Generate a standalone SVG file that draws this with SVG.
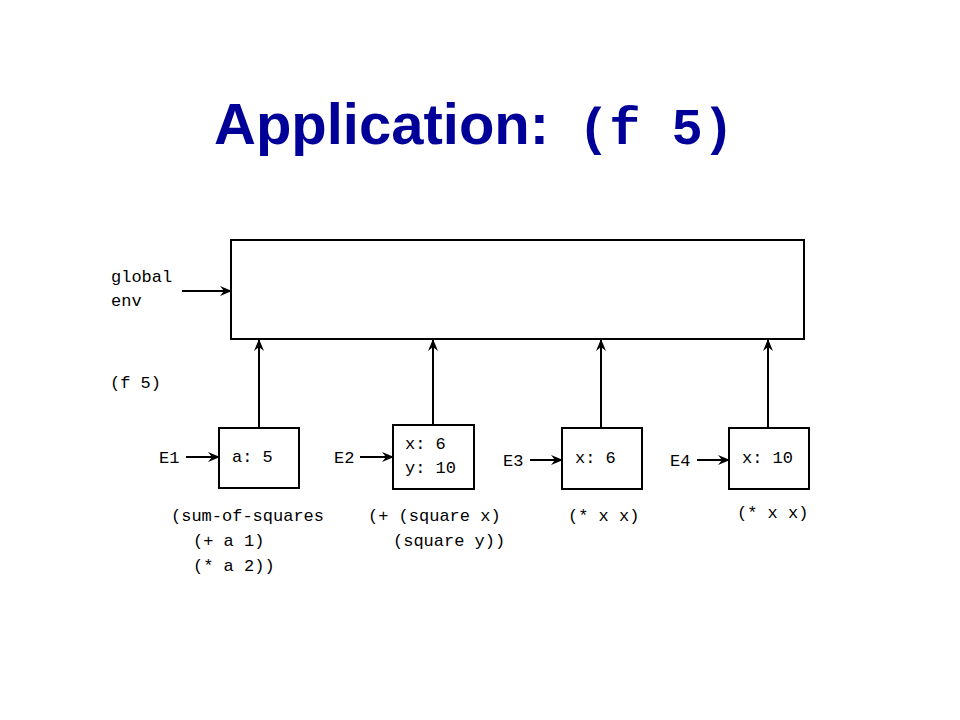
<svg xmlns="http://www.w3.org/2000/svg" width="960" height="720" viewBox="0 0 960 720">
<defs>
<style>
.t{font-family:"Liberation Mono","Courier New",monospace;font-size:17px;fill:#000}
.box{fill:#fff;stroke:#000;stroke-width:2}
.ln{stroke:#000;stroke-width:2;fill:none;marker-end:url(#ah)}
</style>
<marker id="ah" viewBox="0 0 12 10" refX="11" refY="5" markerWidth="12" markerHeight="10" markerUnits="userSpaceOnUse" orient="auto">
<path d="M0,0 L12,5 L0,10 L4,5 Z" fill="#000"/>
</marker>
</defs>
<rect width="960" height="720" fill="#fff"/>
<g id="title">
<text x="214" y="144" font-family="Liberation Sans,Arial,sans-serif" font-weight="bold" font-size="58" fill="#000099">Application:</text>
<text x="578" y="144" font-family="Liberation Mono,Courier New,monospace" font-weight="bold" font-size="52" fill="#000099">(f 5)</text>
</g>
<g id="global">
<rect class="box" x="231" y="240" width="573" height="99"/>
<text class="t" x="111" y="282">global</text>
<text class="t" x="111" y="306">env</text>
</g>
<text class="t" x="110" y="388">(f 5)</text>
<g id="E1">
<rect class="box" x="219" y="428" width="80" height="60"/>
<text class="t" x="159" y="463">E1</text>
<text class="t" x="232" y="462">a: 5</text>
<text class="t" x="171" y="521">(sum-of-squares</text>
<text class="t" x="193" y="546">(+ a 1)</text>
<text class="t" x="193" y="571">(* a 2))</text>
</g>
<g id="E2">
<rect class="box" x="393" y="425" width="81" height="64"/>
<text class="t" x="334" y="463">E2</text>
<text class="t" x="405" y="449">x: 6</text>
<text class="t" x="405" y="473">y: 10</text>
<text class="t" x="368" y="521">(+ (square x)</text>
<text class="t" x="393" y="546">(square y))</text>
</g>
<g id="E3">
<rect class="box" x="562" y="428" width="80" height="61"/>
<text class="t" x="503" y="466">E3</text>
<text class="t" x="575" y="463">x: 6</text>
<text class="t" x="568" y="521">(* x x)</text>
</g>
<g id="E4">
<rect class="box" x="729" y="428" width="80" height="61"/>
<text class="t" x="670" y="466">E4</text>
<text class="t" x="742" y="463">x: 10</text>
<text class="t" x="737" y="518">(* x x)</text>
</g>
<g id="connectors">
<line class="ln" x1="182" y1="291" x2="231" y2="291"/>
<line class="ln" x1="259" y1="428" x2="259" y2="340"/>
<line class="ln" x1="433" y1="425" x2="433" y2="340"/>
<line class="ln" x1="601" y1="428" x2="601" y2="340"/>
<line class="ln" x1="768" y1="428" x2="768" y2="340"/>
<line class="ln" x1="186" y1="457" x2="219" y2="457"/>
<line class="ln" x1="360" y1="457" x2="393" y2="457"/>
<line class="ln" x1="530" y1="460" x2="562" y2="460"/>
<line class="ln" x1="697" y1="460" x2="729" y2="460"/>
</g>
</svg>
